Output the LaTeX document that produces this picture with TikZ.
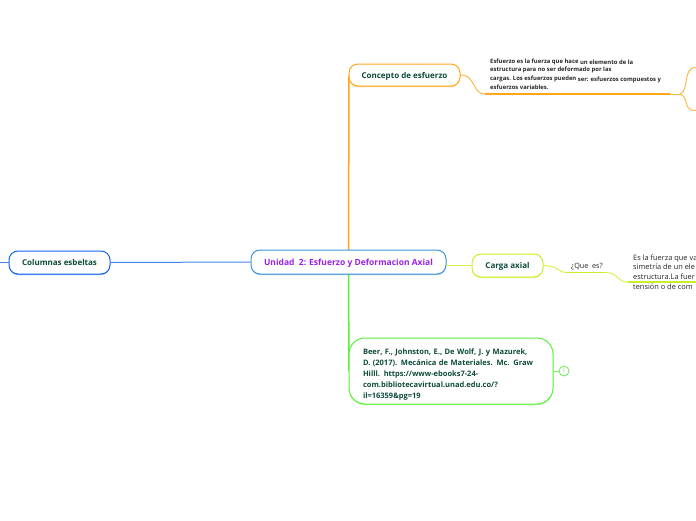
\documentclass[tikz,border=0pt]{standalone}
\usepackage{fontspec}
\setmainfont{Open Sans}
\usetikzlibrary{shadows}
\definecolor{textgreen}{HTML}{0D4A3A}
\definecolor{mainblue}{HTML}{3F94D8}
\definecolor{colblue}{HTML}{1464F0}
\definecolor{orangeline}{HTML}{FFA61A}
\definecolor{yellowline}{HTML}{C8F028}
\definecolor{greenline}{HTML}{58F038}
\definecolor{titlepurple}{HTML}{9A22E6}
\begin{document}
\begin{tikzpicture}[
    x=1pt, y=-1pt,
    topic/.style={rectangle, draw, line width=1pt, fill=white, rounded corners=9pt, inner sep=0pt, font=\bfseries\fontsize{8}{11}\selectfont, text=textgreen},
    oneline/.style={text height=7pt, text depth=1pt},
    lowbar/.style={drop shadow={shadow xshift=0pt, shadow yshift=-1pt, opacity=0.55, fill=#1}},
    note/.style={inner sep=0pt, align=left, anchor=north west, text=black!85},
    branch/.style={line width=1.5pt},
    soft/.style={line width=1pt, opacity=0.8}
]
    \useasboundingbox (0,0) rectangle (696,520);

    \draw [branch, orangeline] (348.5,250) -- (349,75);
    \draw [branch, greenline] (348.5,274) -- (349,371);

    \node [topic, oneline, draw=mainblue, text=titlepurple, lowbar=mainblue, font=\bfseries\fontsize{8.5}{11}\selectfont, minimum width=195pt, minimum height=24pt] (main) at (348.5,262) {Unidad\ \ 2: Esfuerzo y Deformacion Axial};
    \node [topic, oneline, draw=colblue, lowbar=colblue, minimum width=101pt, minimum height=23pt] (columnas) at (59.5,262.5) {Columnas esbeltas};
    \node [topic, oneline, draw=orangeline, lowbar=orangeline, minimum width=111pt, minimum height=22pt] (concepto) at (404.5,75) {Concepto de esfuerzo};
    \node [topic, oneline, draw=yellowline, lowbar=yellowline, minimum width=71pt, minimum height=23pt] (carga) at (507.5,265.5) {Carga axial};
    \node [topic, draw=greenline, lowbar=greenline, rounded corners=16pt, font=\bfseries\fontsize{7.5}{11}\selectfont, minimum width=204pt, minimum height=66pt, align=left, text width=176pt] (beer) at (451,371) {\rule{0pt}{13pt}Beer, F., Johnston, E., De Wolf, J. y Mazurek,\\D. (2017). Mecánica de Materiales. Mc. Graw\\Hilll. https://www-ebooks7-24-\\com.bibliotecavirtual.unad.edu.co/?\\il=16359\&pg=19};
    \node [circle, draw=greenline, line width=0.7pt, minimum size=10pt, inner sep=0pt, text=greenline!70!black, font=\fontsize{5}{5}\selectfont] (info) at (564,371) {i};

    \node [note, font=\bfseries\fontsize{5.9}{8.7}\selectfont] (esfuerzo) at (490,58.5) {Esfuerzo es la fuerza que hace \raisebox{-1pt}{un elemento de la}\\estructura para no ser deformado por las\\cargas. Los esfuerzos pueden \raisebox{-0.5pt}{ser: esfuerzos compuestos y}\\esfuerzos variables.};
    \node [note, font=\fontsize{7.2}{9.6}\selectfont, anchor=west] (quees) at (571,267) {¿Que\ \ es?};
    \node [note, font=\fontsize{7.4}{9.6}\selectfont] (fuerza) at (633,254.5) {Es la fuerza que va\\simetría de un ele\\estructura.La fuer\\tensión o de com};

    \coordinate (esfstart) at (485,94);
    \coordinate (esfend) at (670,94);
    \coordinate (fork) at (680,94);
    \coordinate (forkup) at (696,67.5);
    \coordinate (forkdown) at (696,110.5);
    \coordinate (questart) at (567,272.5);
    \coordinate (queend) at (605,272.5);
    \coordinate (fuestart) at (628,282);
    \coordinate (fueend) at (696,282);
    \coordinate (colstub) at (0,262.5);
    \coordinate (cargastub) at (446,265.5);

    \draw [line width=1pt, colblue!80!white] (main.west) -- (columnas.east);
    \draw [soft, colblue] (columnas.west) -- (colstub);
    \draw [soft, yellowline] (cargastub) -- (carga.west);

    \draw [soft, orangeline] (concepto.east) .. controls (476,75) and (472,94) .. (esfstart);
    \draw [branch, orangeline] (esfstart) -- (esfend);
    \draw [soft, orangeline] (esfend) -- (fork);
    \draw [soft, orangeline] (fork) .. controls (690,90) and (682,67.5) .. (forkup);
    \draw [soft, orangeline] (fork) .. controls (690,98) and (682,110.5) .. (forkdown);

    \draw [soft, yellowline] (carga.east) .. controls (558,265.5) and (558,272.5) .. (questart);
    \draw [branch, yellowline] (questart) -- (queend);
    \draw [soft, yellowline] (queend) .. controls (619,272.5) and (616,282) .. (fuestart);
    \draw [branch, yellowline] (fuestart) -- (fueend);
    \draw [soft, greenline] (beer.east) -- (info.west);
\end{tikzpicture}
\end{document}
